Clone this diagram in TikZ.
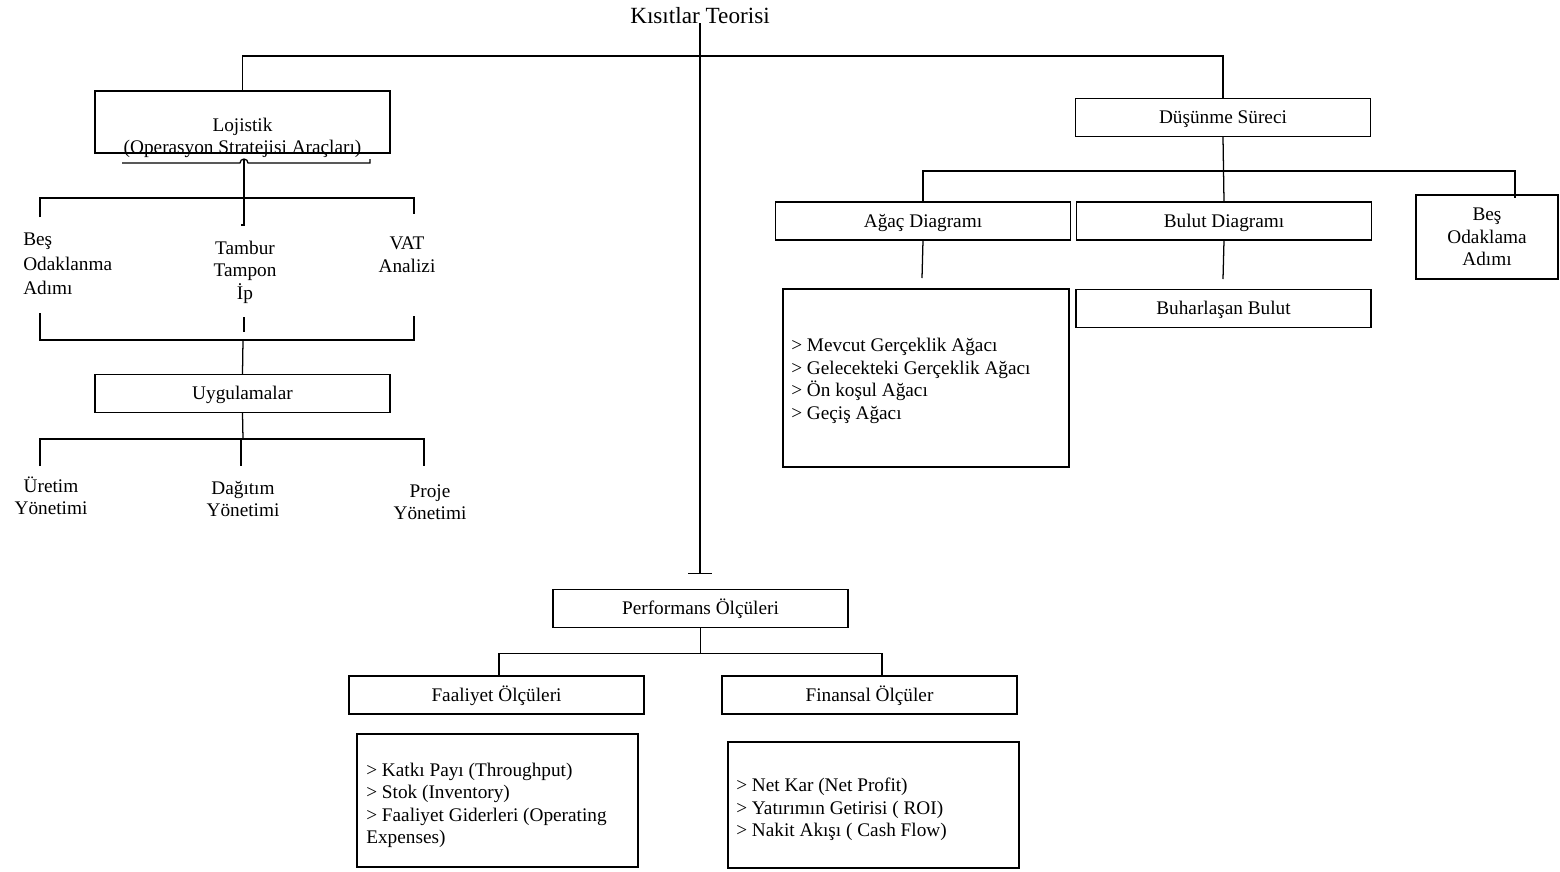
\documentclass[tikz,border=0pt]{standalone}
\usepackage{fontspec}
\setmainfont{Liberation Serif}
\usetikzlibrary{positioning, arrows.meta, calc}

\begin{document}
\begin{tikzpicture}[
    x=0.025cm, y=-0.025cm,
    every node/.style={font=\fontsize{13.7}{16}\selectfont},
    box/.style={rectangle, draw, line width=0.9pt, inner sep=0pt, minimum width=7.375cm, minimum height=0.95cm, text height=12.1pt, text depth=3pt},
    lbl/.style={inner sep=0pt, align=center, yshift=-1.4pt},
    listtext/.style={inner sep=0pt, align=left, anchor=west, yshift=-1.4pt},
    link/.style={line width=0.9pt}
]
    \useasboundingbox (0,0) rectangle (1560,871);

    \node[lbl, anchor=base, yshift=1.4pt, font=\fontsize{16.5}{19}\selectfont] (title) at (700,23) {Kısıtlar Teorisi};
    \coordinate (topbar) at (700,56);
    \coordinate (tee) at (700,574);

    % left branch
    \node[box, minimum height=1.55cm] (lojbox) at (242.5,122) {};
    \node[lbl] (lojtext) at (242.5,136) {Lojistik\\(Operasyon Stratejisi Araçları)};
    \node[lbl, align=left, anchor=west, font=\fontsize{13.7}{17.5}\selectfont] (besodak) at (23,262) {Beş\\ Odaklanma\\Adımı};
    \node[lbl] (tambur) at (245,270) {Tambur\\Tampon\\İp};
    \node[lbl] (vat) at (407,253) {VAT\\Analizi};
    \node[box] (uygbox) at (242.5,393.5) {Uygulamalar};
    \node[lbl] (uretim) at (51,494) {Üretim\\Yönetimi};
    \node[lbl] (dagitim) at (243,497) {Dağıtım\\Yönetimi};
    \node[lbl] (proje) at (430,500) {Proje\\Yönetimi};

    % right branch
    \node[box] (dusbox) at (1223,117.5) {Düşünme Süreci};
    \node[box] (agacbox) at (923,221) {Ağaç Diagramı};
    \node[box] (bulbox) at (1224,221) {Bulut Diagramı};
    \node[box, text height={}, text depth={}, minimum width=3.55cm, minimum height=2.1cm, align=center] (besbox) at (1487,237) {Beş\\Odaklama\\Adımı};
    \node[box, minimum width=7.15cm, minimum height=4.45cm] (agaclist) at (926,378) {};
    \node[listtext] (agactext) at (791,379) {> Mevcut Gerçeklik Ağacı\\> Gelecekteki Gerçeklik Ağacı\\> Ön koşul Ağacı\\> Geçiş Ağacı};
    \node[box] (buhbox) at (1223.5,308.5) {Buharlaşan Bulut};

    % bottom branch
    \node[box] (perfbox) at (700.5,608.5) {Performans Ölçüleri};
    \node[box] (faabox) at (496.5,695) {Faaliyet Ölçüleri};
    \node[box] (finbox) at (869.5,695) {Finansal Ölçüler};
    \node[box, minimum width=7.025cm, minimum height=3.325cm] (faalist) at (497.5,800.5) {};
    \node[listtext] (faatext) at (366,803.5) {> Katkı Payı (Throughput)\\> Stok (Inventory)\\> Faaliyet Giderleri (Operating\\Expenses)};
    \node[box, minimum width=7.275cm, minimum height=3.15cm] (finlist) at (873.5,805) {};
    \node[listtext] (fintext) at (736,807.5) {> Net Kar (Net Profit)\\> Yatırımın Getirisi ( ROI)\\> Nakit Akışı ( Cash Flow)};

    \draw[link, -{Bar[width=17pt, line width=0.9pt]}] (title.base) -- (tee);
    \draw[link] (lojbox.north) |- (topbar) -| (dusbox.north);

    \draw[link] (122,163) -- (240,163) arc[start angle=180, end angle=360, radius=4] -- (370,163) -- (370,159);
    \draw[link] (244,159) -- (244,225) -- (241,225);
    \draw[link] (40,217) |- (414,198) -- (414,214);
    \draw[link] (40,313) |- (414,340) -- (414,316);
    \draw[link] (244,317) -- (244,332);
    \draw[link] (243,340) -- (uygbox.north);
    \draw[link] (uygbox.south) -- (243,439);
    \draw[link] (40,466) |- (424,439) -- (424,466);
    \draw[link] (241,439) -- (241,466);

    \draw[link] (dusbox.south) -- (bulbox.north);
    \draw[link] (agacbox.north) |- (1515,171) -- (1515,198);
    \draw[link] (agacbox.south) -- (922,278);
    \draw[link] (bulbox.south) -- (1223,279);

    \draw[link] (perfbox.south) -- (700.5,654);
    \draw[link] ($(faabox.north)+(2.5,0)$) |- ($(finbox.north)+(12.5,-22)$) -- ($(finbox.north)+(12.5,0)$);
\end{tikzpicture}
\end{document}
